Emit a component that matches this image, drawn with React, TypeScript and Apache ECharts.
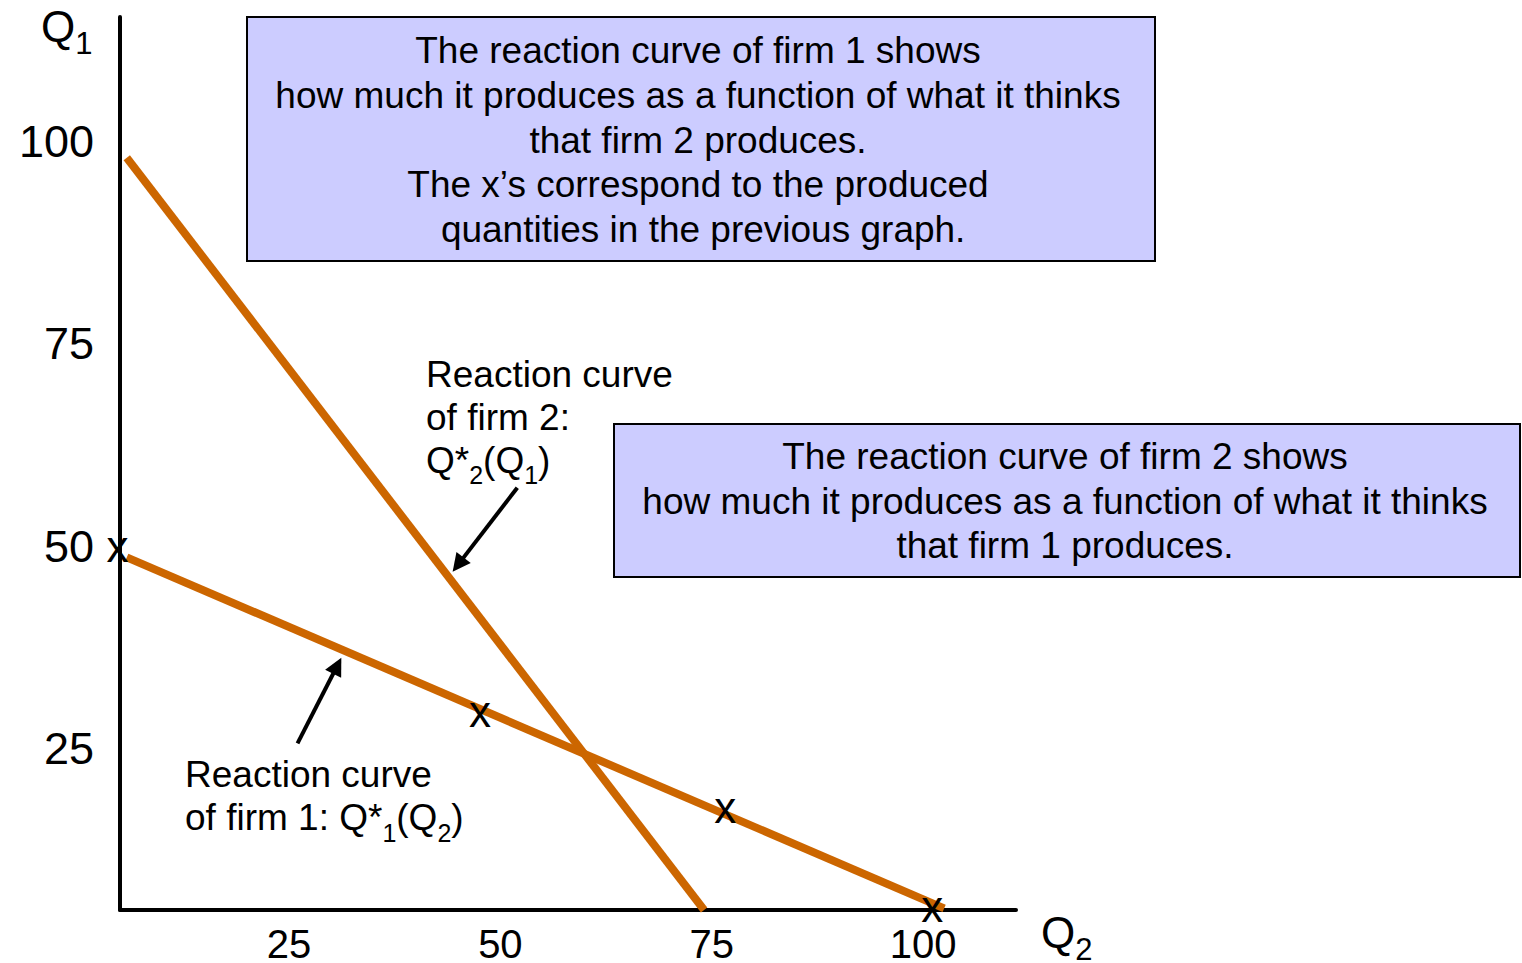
import React, { useEffect, useRef } from "react";
import * as echarts from "echarts";

const FONT = "'Liberation Sans', Arial, Helvetica, sans-serif";

// Axis tick labels
const Q2_TICKS = [25, 50, 75, 100];
const Q1_TICKS = [25, 50, 75, 100];
const Q2_RANGE = [5, 111];
const Q1_RANGE = [5, 115.4];

// Reaction curves [Q2, Q1]
const FIRM1_CURVE = [
  [5.8, 48.6],
  [102.5, 5.2],
];
const FIRM2_CURVE = [
  [5.8, 98.0],
  [74.1, 5.0],
];

// "x" markers (produced quantities from the previous graph)
const X_MARKS = [
  [4.7, 49.4],
  [47.6, 29.0],
  [76.6, 17.2],
  [101.1, 5.0],
];

// Annotation arrows [tail, head]
const ARROW_FIRM2 = [
  [52.0, 57.2],
  [45.0, 47.7],
];
const ARROW_FIRM1 = [
  [26.0, 25.6],
  [30.7, 35.2],
];

const BOX1_LINES = [
  "The reaction curve of firm 1 shows",
  "how much it produces as a function of what it thinks",
  "that firm 2 produces.",
  "The x\u2019s correspond to the produced",
  " quantities in the previous graph.",
];
const BOX2_LINES = [
  "The reaction curve of firm 2 shows",
  "how much it produces as a function of what it thinks",
  "that firm 1 produces.",
];
const NOTE_FIRM2 = ["{n|Reaction curve}", "{n|of firm 2:}", "{n|Q*}{s|2}{n|(Q}{s|1}{n|)}"];
const NOTE_FIRM1 = ["{n|Reaction curve}", "{n|of firm 1: Q*}{s|1}{n|(Q}{s|2}{n|)}"];

const LINE_COLOR = "#CC6600";
const BOX_FILL = "#CCCCFF";

const noteRich = {
  n: { fontSize: 37, height: 43, lineHeight: 43, fontFamily: FONT, fill: "#000", verticalAlign: "top" },
  s: {
    fontSize: 25,
    height: 25,
    lineHeight: 43,
    padding: [24, 0, 0, 0],
    fontFamily: FONT,
    fill: "#000",
    verticalAlign: "top",
  },
};
const axisNameRich = {
  q: { fontSize: 44, height: 44, lineHeight: 44, fontFamily: FONT, fill: "#000", verticalAlign: "top" },
  s: {
    fontSize: 31,
    height: 31,
    lineHeight: 44,
    padding: [24, 0, 0, 0],
    fontFamily: FONT,
    fill: "#000",
    verticalAlign: "top",
  },
};

function arrowMarkLine(arrow: number[][]) {
  return {
    silent: true,
    animation: false,
    symbol: ["none", "triangle"],
    symbolSize: 18,
    lineStyle: { color: "#000", width: 4, type: "solid" },
    itemStyle: { color: "#000" },
    label: { show: false },
    emphasis: { disabled: true },
    data: [[{ coord: arrow[0] }, { coord: arrow[1] }]],
  };
}

export default function App() {
  const ref = useRef<HTMLDivElement>(null);

  useEffect(() => {
    if (!ref.current) return;
    const chart = echarts.init(ref.current, null, { renderer: "svg" });
    const option: any = {
      animation: false,
      backgroundColor: "#ffffff",
      grid: {
        left: 120,
        top: 17,
        width: 896,
        height: 893,
        containLabel: false,
        outerBoundsMode: "none",
      },
      xAxis: {
        type: "value",
        min: Q2_RANGE[0],
        max: Q2_RANGE[1],
        axisLine: { show: true, onZero: false, lineStyle: { color: "#000", width: 4 } },
        axisTick: { show: false },
        splitLine: { show: false },
        axisLabel: {
          customValues: Q2_TICKS,
          fontSize: 40,
          lineHeight: 30,
          fontFamily: FONT,
          color: "#000",
          margin: 19,
        },
      },
      yAxis: {
        type: "value",
        min: Q1_RANGE[0],
        max: Q1_RANGE[1],
        axisLine: { show: true, onZero: false, lineStyle: { color: "#000", width: 4 } },
        axisTick: { show: false },
        splitLine: { show: false },
        axisLabel: {
          customValues: Q1_TICKS,
          fontSize: 45,
          fontFamily: FONT,
          color: "#000",
          margin: 26,
        },
      },
      series: [
        {
          name: "Reaction curve of firm 1",
          type: "line",
          data: FIRM1_CURVE,
          symbol: "none",
          clip: false,
          z: 3,
          lineStyle: { color: LINE_COLOR, width: 8, cap: "butt" },
          markLine: arrowMarkLine(ARROW_FIRM1),
        },
        {
          name: "Reaction curve of firm 2",
          type: "line",
          data: FIRM2_CURVE,
          symbol: "none",
          clip: false,
          z: 3,
          lineStyle: { color: LINE_COLOR, width: 8, cap: "butt" },
          markLine: arrowMarkLine(ARROW_FIRM2),
        },
        {
          name: "Produced quantities",
          type: "scatter",
          data: X_MARKS,
          symbol: "circle",
          symbolSize: 0.01,
          clip: false,
          z: 5,
          itemStyle: { color: "#000", opacity: 1 },
          emphasis: { disabled: true },
          label: {
            show: true,
            position: "inside",
            formatter: "x",
            fontSize: 44,
            fontFamily: FONT,
            color: "#000",
            opacity: 1,
            textBorderWidth: 0,
            offset: [0, -4],
          },
        },
      ],
      graphic: [
        {
          type: "rect",
          shape: { x: 247, y: 17, width: 908, height: 244 },
          style: { fill: BOX_FILL, stroke: "#000", lineWidth: 2 },
          z: 10,
        },
        {
          type: "text",
          x: 698,
          y: 140,
          z: 11,
          style: {
            text: BOX1_LINES.join("\n"),
            fontSize: 37,
            lineHeight: 44.6,
            fontFamily: FONT,
            fill: "#000",
            align: "center",
            verticalAlign: "middle",
          },
        },
        {
          type: "rect",
          shape: { x: 614, y: 424, width: 906, height: 153 },
          style: { fill: BOX_FILL, stroke: "#000", lineWidth: 2 },
          z: 10,
        },
        {
          type: "text",
          x: 1065,
          y: 501,
          z: 11,
          style: {
            text: BOX2_LINES.join("\n"),
            fontSize: 37,
            lineHeight: 44.6,
            fontFamily: FONT,
            fill: "#000",
            align: "center",
            verticalAlign: "middle",
          },
        },
        {
          type: "text",
          x: 426,
          y: 417,
          z: 11,
          style: {
            text: NOTE_FIRM2.join("\n"),
            rich: noteRich,
            fontSize: 37,
            fontFamily: FONT,
            fill: "#000",
            align: "left",
            verticalAlign: "middle",
          },
        },
        {
          type: "text",
          x: 185,
          y: 796,
          z: 11,
          style: {
            text: NOTE_FIRM1.join("\n"),
            rich: noteRich,
            fontSize: 37,
            fontFamily: FONT,
            fill: "#000",
            align: "left",
            verticalAlign: "middle",
          },
        },
        {
          type: "text",
          x: 41,
          y: 4,
          z: 11,
          style: {
            text: "{q|Q}{s|1}",
            rich: axisNameRich,
            fontSize: 44,
            fontFamily: FONT,
            fill: "#000",
            align: "left",
            verticalAlign: "top",
          },
        },
        {
          type: "text",
          x: 1041,
          y: 910,
          z: 11,
          style: {
            text: "{q|Q}{s|2}",
            rich: axisNameRich,
            fontSize: 44,
            fontFamily: FONT,
            fill: "#000",
            align: "left",
            verticalAlign: "top",
          },
        },
      ],
    };
    chart.setOption(option);
    return () => {
      chart.dispose();
    };
  }, []);

  return (
    <div
      ref={ref}
      style={{ position: "fixed", left: 0, top: 0, width: 1522, height: 963, background: "#fff" }}
    />
  );
}
